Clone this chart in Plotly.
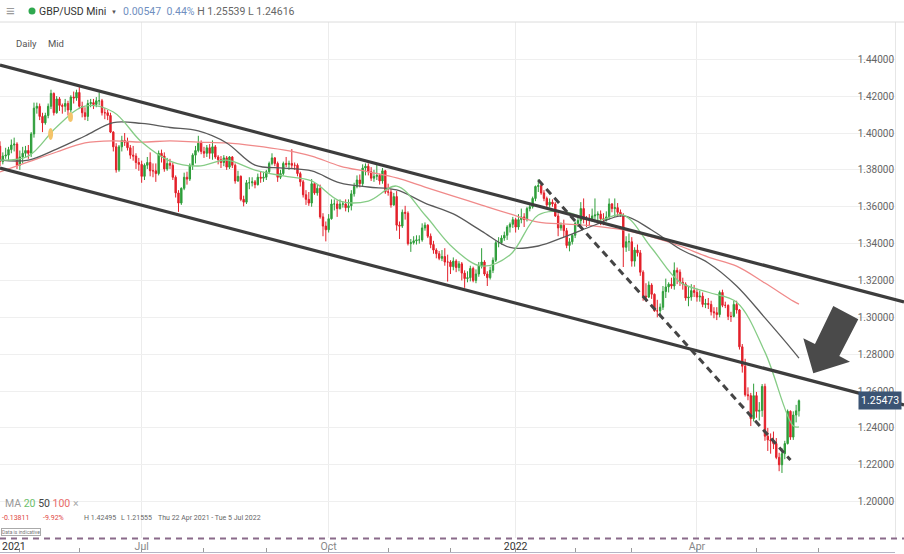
import pandas as pd
import plotly.graph_objects as go

# ---------------- data (GBP/USD daily) ----------------
FIRST_OPEN = 1.39284

close_2021_04 = [1.3845, 1.3875, 1.3880, 1.3910, 1.3935, 1.3940, 1.3825]
high_2021_04 = [1.3955, 1.3895, 1.3920, 1.3925, 1.3965, 1.3975, 1.3950]
low_2021_04 = [1.3820, 1.3830, 1.3860, 1.3850, 1.3890, 1.3900, 1.3805]

close_2021_05 = [1.3870, 1.3890, 1.3905, 1.3890, 1.3995, 1.4135, 1.4145, 1.4090, 1.4055, 1.4095, 1.4145,
                 1.4215, 1.4110, 1.4185, 1.4150, 1.4145, 1.4160, 1.4125, 1.4195, 1.4190, 1.4220]
high_2021_05 = [1.3905, 1.3925, 1.3930, 1.3935, 1.4005, 1.4165, 1.4165, 1.4160, 1.4110, 1.4110, 1.4160,
                1.4235, 1.4220, 1.4200, 1.4195, 1.4160, 1.4185, 1.4175, 1.4205, 1.4225, 1.4235]
low_2021_05 = [1.3800, 1.3835, 1.3870, 1.3860, 1.3870, 1.3975, 1.4105, 1.4070, 1.4005, 1.4045, 1.4080,
               1.4130, 1.4095, 1.4105, 1.4120, 1.4105, 1.4115, 1.4095, 1.4110, 1.4160, 1.4175]

close_2021_06 = [1.4145, 1.4110, 1.4090, 1.4160, 1.4165, 1.4155, 1.4175, 1.4175, 1.4110, 1.4110, 1.4095,
                 1.4005, 1.3925, 1.3800, 1.3925, 1.3960, 1.3950, 1.3920, 1.3880, 1.3875, 1.3840, 1.3830]
high_2021_06 = [1.42495, 1.4170, 1.4140, 1.4180, 1.4185, 1.4185, 1.4195, 1.4220, 1.4185, 1.4135, 1.4125,
                1.4110, 1.4010, 1.3945, 1.3935, 1.3985, 1.4000, 1.3975, 1.3935, 1.3930, 1.3890, 1.3865]
low_2021_06 = [1.4130, 1.4085, 1.4070, 1.4065, 1.4140, 1.4130, 1.4140, 1.4150, 1.4095, 1.4075, 1.4070,
               1.4000, 1.3900, 1.3785, 1.3790, 1.3900, 1.3930, 1.3905, 1.3860, 1.3850, 1.3805, 1.3795]

close_2021_07 = [1.3765, 1.3825, 1.3840, 1.3795, 1.3795, 1.3780, 1.3890, 1.3875, 1.3805, 1.3835, 1.3825,
                 1.3760, 1.3675, 1.3620, 1.3700, 1.3760, 1.3750, 1.3825, 1.3880, 1.3905, 1.3945, 1.3900]
high_2021_07 = [1.3850, 1.3835, 1.3870, 1.3895, 1.3835, 1.3835, 1.3905, 1.3910, 1.3895, 1.3865, 1.3860,
                1.3840, 1.3770, 1.3690, 1.3705, 1.3785, 1.3790, 1.3835, 1.3890, 1.3930, 1.3985, 1.3960]
low_2021_07 = [1.3730, 1.3745, 1.3805, 1.3765, 1.3760, 1.3735, 1.3770, 1.3840, 1.3790, 1.3795, 1.3805,
               1.3745, 1.3650, 1.3572, 1.3610, 1.3690, 1.3720, 1.3740, 1.3800, 1.3835, 1.3895, 1.3885]

close_2021_08 = [1.3890, 1.3920, 1.3890, 1.3925, 1.3870, 1.3855, 1.3840, 1.3865, 1.3815, 1.3870, 1.3825,
                 1.3740, 1.3765, 1.3640, 1.3625, 1.3730, 1.3730, 1.3735, 1.3720, 1.3760, 1.3755, 1.3760]
high_2021_08 = [1.3925, 1.3935, 1.3940, 1.3960, 1.3935, 1.3880, 1.3875, 1.3880, 1.3875, 1.3875, 1.3875,
                1.3835, 1.3795, 1.3770, 1.3660, 1.3745, 1.3760, 1.3760, 1.3745, 1.3780, 1.3790, 1.3790]
low_2021_08 = [1.3865, 1.3870, 1.3860, 1.3855, 1.3860, 1.3830, 1.3810, 1.3820, 1.3800, 1.3805, 1.3810,
               1.3725, 1.3735, 1.3630, 1.3602, 1.3615, 1.3695, 1.3710, 1.3700, 1.3715, 1.3730, 1.3735]

close_2021_09 = [1.3790, 1.3835, 1.3865, 1.3835, 1.3760, 1.3780, 1.3835, 1.3830, 1.3835, 1.3825, 1.3825,
                 1.3780, 1.3735, 1.3665, 1.3640, 1.3620, 1.3725, 1.3675, 1.3700, 1.3545, 1.3495, 1.3475]
high_2021_09 = [1.3800, 1.3845, 1.3890, 1.3870, 1.3845, 1.3800, 1.3845, 1.3870, 1.3850, 1.3913, 1.3840,
                1.3835, 1.3790, 1.3745, 1.3690, 1.3680, 1.3750, 1.3730, 1.3720, 1.3720, 1.3565, 1.3520]
low_2021_09 = [1.3745, 1.3780, 1.3825, 1.3820, 1.3735, 1.3750, 1.3770, 1.3815, 1.3800, 1.3805, 1.3800,
               1.3765, 1.3710, 1.3650, 1.3610, 1.3605, 1.3600, 1.3665, 1.3660, 1.3535, 1.3440, 1.3412]

close_2021_10 = [1.3535, 1.3615, 1.3615, 1.3590, 1.3615, 1.3615, 1.3595, 1.3605, 1.3670, 1.3710, 1.3745,
                 1.3725, 1.3810, 1.3820, 1.3790, 1.3755, 1.3765, 1.3770, 1.3740, 1.3795, 1.3680]
high_2021_10 = [1.3560, 1.3640, 1.3640, 1.3635, 1.3640, 1.3630, 1.3640, 1.3640, 1.3690, 1.3730, 1.3770,
                1.3775, 1.3830, 1.3835, 1.3835, 1.3815, 1.3800, 1.3830, 1.3780, 1.3810, 1.3800]
low_2021_10 = [1.3460, 1.3530, 1.3580, 1.3545, 1.3585, 1.3595, 1.3575, 1.3570, 1.3580, 1.3655, 1.3700,
               1.3705, 1.3710, 1.3770, 1.3770, 1.3740, 1.3735, 1.3745, 1.3720, 1.3725, 1.3670]

close_2021_11 = [1.3680, 1.3610, 1.3655, 1.3500, 1.3495, 1.3570, 1.3565, 1.3400, 1.3405, 1.3415, 1.3420,
                 1.3420, 1.3485, 1.3500, 1.3440, 1.3395, 1.3365, 1.3345, 1.3320, 1.3330, 1.3300, 1.3300]
high_2021_11 = [1.3725, 1.3695, 1.3675, 1.3685, 1.3520, 1.3585, 1.3605, 1.3575, 1.3425, 1.3440, 1.3445,
                1.3445, 1.3510, 1.3515, 1.3505, 1.3455, 1.3415, 1.3375, 1.3360, 1.3365, 1.3375, 1.3340]
low_2021_11 = [1.3660, 1.3595, 1.3605, 1.3470, 1.3425, 1.3485, 1.3530, 1.3390, 1.3355, 1.3395, 1.3395,
               1.3400, 1.3410, 1.3470, 1.3430, 1.3375, 1.3345, 1.3320, 1.3310, 1.3305, 1.3280, 1.3194]

close_2021_12 = [1.3275, 1.3305, 1.3270, 1.3290, 1.3240, 1.3210, 1.3215, 1.3265, 1.3200, 1.3235, 1.3280,
                 1.3300, 1.3235, 1.3215, 1.3255, 1.3310, 1.3405, 1.3405, 1.3430, 1.3445, 1.3490, 1.3505, 1.3530]
high_2021_12 = [1.3310, 1.3325, 1.3315, 1.3305, 1.3300, 1.3255, 1.3250, 1.3280, 1.3275, 1.3260, 1.3300,
                1.3375, 1.3310, 1.3250, 1.3275, 1.3325, 1.3415, 1.3435, 1.3445, 1.3465, 1.3500, 1.3515, 1.3545]
low_2021_12 = [1.3235, 1.3255, 1.3245, 1.3250, 1.3200, 1.3160, 1.3190, 1.3195, 1.3190, 1.3185, 1.3220,
               1.3265, 1.3225, 1.3170, 1.3205, 1.3240, 1.3300, 1.3380, 1.3395, 1.3415, 1.3420, 1.3460, 1.3485]

close_2022_01 = [1.3490, 1.3530, 1.3545, 1.3530, 1.3590, 1.3600, 1.3645, 1.3710, 1.3715, 1.3675, 1.3645,
                 1.3610, 1.3625, 1.3615, 1.3550, 1.3485, 1.3500, 1.3470, 1.3390, 1.3410, 1.3445]
high_2022_01 = [1.3540, 1.3560, 1.3590, 1.3565, 1.3600, 1.3615, 1.3655, 1.3715, 1.3749, 1.3725, 1.3690,
                1.3655, 1.3645, 1.3640, 1.3625, 1.3565, 1.3515, 1.3530, 1.3485, 1.3430, 1.3450]
low_2022_01 = [1.3460, 1.3475, 1.3510, 1.3490, 1.3520, 1.3575, 1.3590, 1.3630, 1.3680, 1.3665, 1.3630,
               1.3590, 1.3595, 1.3600, 1.3545, 1.3440, 1.3470, 1.3435, 1.3375, 1.3358, 1.3395]

close_2022_02 = [1.3510, 1.3525, 1.3590, 1.3530, 1.3530, 1.3530, 1.3550, 1.3555, 1.3560, 1.3535,
                 1.3530, 1.3545, 1.3615, 1.3590, 1.3595, 1.3570, 1.3555, 1.3380, 1.3410, 1.3410]
high_2022_02 = [1.3520, 1.3545, 1.3625, 1.3645, 1.3550, 1.3560, 1.3590, 1.3645, 1.3575, 1.3580,
                1.3565, 1.3575, 1.3645, 1.3620, 1.3645, 1.3620, 1.3585, 1.3565, 1.3440, 1.3455]
low_2022_02 = [1.3430, 1.3490, 1.3500, 1.3510, 1.3490, 1.3500, 1.3520, 1.3515, 1.3510, 1.3500,
               1.3500, 1.3520, 1.3530, 1.3570, 1.3545, 1.3545, 1.3545, 1.3273, 1.3355, 1.3360]

close_2022_03 = [1.3305, 1.3365, 1.3350, 1.3245, 1.3115, 1.3110, 1.3175, 1.3125, 1.3035, 1.3035, 1.3055,
                 1.3140, 1.3165, 1.3180, 1.3170, 1.3255, 1.3245, 1.3190, 1.3180, 1.3105, 1.3110, 1.3145, 1.3135]
high_2022_03 = [1.3435, 1.3380, 1.3395, 1.3365, 1.3255, 1.3185, 1.3195, 1.3185, 1.3130, 1.3095, 1.3075,
                1.3170, 1.3210, 1.3190, 1.3215, 1.3298, 1.3270, 1.3260, 1.3215, 1.3190, 1.3165, 1.3180, 1.3175]
low_2022_03 = [1.3275, 1.3275, 1.3330, 1.3225, 1.3090, 1.3085, 1.3105, 1.3100, 1.3030, 1.3000, 1.3000,
               1.3040, 1.3105, 1.3135, 1.3155, 1.3150, 1.3180, 1.3170, 1.3150, 1.3090, 1.3060, 1.3090, 1.3110]

close_2022_04 = [1.3110, 1.3115, 1.3070, 1.3075, 1.3070, 1.3030, 1.3025, 1.3015, 1.3135, 1.3065, 1.3065,
                 1.3005, 1.3005, 1.3070, 1.3040, 1.2840, 1.2735, 1.2580, 1.2575, 1.2450, 1.2575]
high_2022_04 = [1.3155, 1.3145, 1.3135, 1.3100, 1.3105, 1.3090, 1.3055, 1.3055, 1.3145, 1.3150, 1.3085,
                1.3070, 1.3030, 1.3090, 1.3090, 1.3045, 1.2855, 1.2775, 1.2620, 1.2590, 1.2640]
low_2022_04 = [1.3085, 1.3085, 1.3055, 1.3050, 1.3045, 1.3010, 1.2995, 1.2985, 1.3000, 1.3055, 1.3050,
               1.2985, 1.2975, 1.3000, 1.3020, 1.2825, 1.2700, 1.2570, 1.2550, 1.2410, 1.2435]

close_2022_05 = [1.2490, 1.2495, 1.2625, 1.2355, 1.2335, 1.2330, 1.2315, 1.2240, 1.2200, 1.2260,
                 1.2315, 1.2490, 1.2350, 1.2470, 1.24926, 1.25473]
high_2022_05 = [1.2595, 1.2540, 1.2638, 1.2640, 1.2400, 1.2370, 1.2380, 1.2345, 1.2265, 1.2290,
                1.2330, 1.2500, 1.2495, 1.2490, 1.2525, 1.25539]
low_2022_05 = [1.2455, 1.2440, 1.2460, 1.2330, 1.2275, 1.2260, 1.2285, 1.2230, 1.2165, 1.21555,
               1.2230, 1.2310, 1.2335, 1.2335, 1.2430, 1.24616]

# moving averages (20 / 50 / 100) every two weeks
MA_DATES = ["2021-04-22", "2021-05-06", "2021-05-20", "2021-06-03", "2021-06-17", "2021-07-01",
            "2021-07-15", "2021-07-29", "2021-08-12", "2021-08-26", "2021-09-09", "2021-09-23",
            "2021-10-07", "2021-10-21", "2021-11-04", "2021-11-18", "2021-12-02", "2021-12-16",
            "2021-12-30", "2022-01-13", "2022-01-27", "2022-02-10", "2022-02-24", "2022-03-10",
            "2022-03-24", "2022-04-07", "2022-04-21", "2022-05-05", "2022-05-19", "2022-05-23"]
MA20 = [1.3853, 1.3875, 1.4033, 1.4146, 1.4114, 1.3951, 1.3848, 1.3821, 1.3853, 1.3799, 1.3767, 1.3740,
        1.3631, 1.3631, 1.3712, 1.3555, 1.3376, 1.3278, 1.3338, 1.3555, 1.3571, 1.3522, 1.3555, 1.3376,
        1.3191, 1.3136, 1.3082, 1.2811, 1.2410, 1.2405]
MA50 = [1.3853, 1.3853, 1.3913, 1.3984, 1.4057, 1.4052, 1.4030, 1.4011, 1.3946, 1.3826, 1.3810, 1.3794,
        1.3729, 1.3707, 1.3691, 1.3620, 1.3561, 1.3468, 1.3379, 1.3387, 1.3441, 1.3501, 1.3550, 1.3474,
        1.3371, 1.3295, 1.3170, 1.2997, 1.2817, 1.2779]
MA100 = [1.3789, 1.3843, 1.3897, 1.3946, 1.3957, 1.3951, 1.3957, 1.3951, 1.3946, 1.3930, 1.3908, 1.3875,
         1.3821, 1.3789, 1.3756, 1.3707, 1.3658, 1.3609, 1.3561, 1.3517, 1.3506, 1.3495, 1.3474, 1.3436,
         1.3387, 1.3327, 1.3278, 1.3186, 1.3088, 1.3072]

Y_TICKS = [1.20, 1.22, 1.24, 1.26, 1.28, 1.30, 1.32, 1.34, 1.36, 1.38, 1.40, 1.42, 1.44]
X_TICK_DATES = ["2021-07-01", "2021-10-01", "2022-01-03", "2022-04-01", "2022-07-01"]
X_TICK_TEXT = ["Jul", "Oct", "<span style='color:#333'>2022</span>", "Apr", "Jul"]
LAST_PRICE = 1.25473

# ---------------- assemble ----------------
close = (close_2021_04 + close_2021_05 + close_2021_06 + close_2021_07 + close_2021_08 + close_2021_09 +
         close_2021_10 + close_2021_11 + close_2021_12 + close_2022_01 + close_2022_02 + close_2022_03 +
         close_2022_04 + close_2022_05)
high = (high_2021_04 + high_2021_05 + high_2021_06 + high_2021_07 + high_2021_08 + high_2021_09 +
        high_2021_10 + high_2021_11 + high_2021_12 + high_2022_01 + high_2022_02 + high_2022_03 +
        high_2022_04 + high_2022_05)
low = (low_2021_04 + low_2021_05 + low_2021_06 + low_2021_07 + low_2021_08 + low_2021_09 +
       low_2021_10 + low_2021_11 + low_2021_12 + low_2022_01 + low_2022_02 + low_2022_03 +
       low_2022_04 + low_2022_05)
# FX daily candles open at the prior session's close
opens = [FIRST_OPEN] + close[:-1]
dates = pd.bdate_range("2021-04-22", periods=len(close))

W, H = 904, 554
PLOT_W = 895
TOP = 22
PLOT_BOTTOM = 538


def px(x):
    return x / PLOT_W


def py(y):
    return (H - y) / (H - TOP)


GREEN = "#2e9e3a"
RED = "#e3202a"
FONT = "Roboto, Open Sans, sans-serif"

fig = go.Figure()

fig.add_trace(go.Scatter(x=MA_DATES, y=MA100, mode="lines", line=dict(color="#f08a8a", width=1.3, shape="spline"),
                         hoverinfo="skip", showlegend=False))
fig.add_trace(go.Scatter(x=MA_DATES, y=MA50, mode="lines", line=dict(color="#5a5a5a", width=1.3, shape="spline"),
                         hoverinfo="skip", showlegend=False))
fig.add_trace(go.Scatter(x=MA_DATES, y=MA20, mode="lines", line=dict(color="#86cc86", width=1.3, shape="spline"),
                         hoverinfo="skip", showlegend=False))

fig.add_trace(go.Candlestick(
    x=dates, open=opens, high=high, low=low, close=close,
    increasing=dict(line=dict(color=GREEN, width=1), fillcolor=GREEN),
    decreasing=dict(line=dict(color=RED, width=1), fillcolor=RED),
    whiskerwidth=0, showlegend=False, hoverinfo="skip",
))

# helper trace so the bottom navigator axis exists
fig.add_trace(go.Scatter(x=[dates[0]], y=[None], xaxis="x2", yaxis="y", mode="lines",
                         showlegend=False, hoverinfo="skip"))

breaks = [dict(bounds=["sat", "mon"])]

fig.update_layout(
    width=W, height=H,
    margin=dict(l=0, r=W - PLOT_W, t=TOP, b=0),
    paper_bgcolor="white", plot_bgcolor="white",
    font=dict(family=FONT, size=10, color="#555"),
    showlegend=False,
    xaxis=dict(
        type="date", rangebreaks=breaks,
        range=["2021-04-22", "2022-07-07 21:36"],
        rangeslider=dict(visible=False),
        tickvals=X_TICK_DATES, ticktext=X_TICK_TEXT,
        tickfont=dict(size=10.5, color="#888", family=FONT),
        showgrid=True, gridcolor="#ececec", gridwidth=1,
        showline=False, zeroline=False, ticks="", anchor="y",
    ),
    xaxis2=dict(
        type="date", rangebreaks=breaks, matches="x", overlaying="x",
        anchor="free", position=0.003, side="bottom",
        showgrid=False, showticklabels=False, ticks="inside", ticklen=4,
        tickcolor="#9a9a9a", dtick="M1", tick0="2021-05-01",
        showline=True, linecolor="#b5b5c5", linewidth=1, zeroline=False,
    ),
    yaxis=dict(
        domain=[(H - PLOT_BOTTOM) / (H - TOP), 1],
        range=[1.18026, 1.46024], side="right", ticklabelposition="inside",
        tickvals=Y_TICKS, ticktext=[f"{v:.5f}" for v in Y_TICKS],
        tickfont=dict(size=10, color="#666", family=FONT),
        showgrid=True, gridcolor="#efefef", gridwidth=1,
        showline=True, linecolor="#e6e6e6", zeroline=False, ticks="",
    ),
)

shapes = []
# header separator
shapes.append(dict(type="line", xref="paper", yref="paper", x0=0, x1=px(W), y0=py(22), y1=py(22),
                   line=dict(color="#dcdcdc", width=1)))
# dashed purple marker at the bottom
shapes.append(dict(type="line", xref="paper", yref="paper", x0=0, x1=px(W), y0=py(538.5), y1=py(538.5),
                   line=dict(color="#8a6a8a", width=2, dash="6px,5px")))
# descending channel
shapes.append(dict(type="line", xref="paper", yref="paper", x0=px(0), y0=py(65), x1=px(904), y1=py(302),
                   line=dict(color="#3d3d3d", width=3.2)))
shapes.append(dict(type="line", xref="paper", yref="paper", x0=px(0), y0=py(168), x1=px(904), y1=py(405),
                   line=dict(color="#3d3d3d", width=3.2)))
# dashed trend line from the January high
shapes.append(dict(type="line", xref="x", yref="y", x0="2022-01-13", y0=1.3745, x1="2022-05-18", y1=1.2226,
                   line=dict(color="#454545", width=3, dash="7px,5px")))
# event markers
shapes.append(dict(type="circle", xref="x", yref="y", x0="2021-05-17", x1="2021-05-18 18:00",
                   y0=1.3962, y1=1.4027, fillcolor="#f4c46a", line=dict(width=0), layer="above"))
shapes.append(dict(type="circle", xref="x", yref="y", x0="2021-05-26", x1="2021-05-27 18:00",
                   y0=1.4060, y1=1.4113, fillcolor="#f4c46a", line=dict(width=0), layer="above"))
# big arrow
arrow_pts = [(833.3, 306), (858.3, 319.3), (839.3, 356), (850, 361.7), (813.3, 373.3), (803.3, 338.3), (815, 344)]
path = "M " + " L ".join(f"{px(a):.5f},{py(b):.5f}" for a, b in arrow_pts) + " Z"
shapes.append(dict(type="path", xref="paper", yref="paper", path=path, fillcolor="#4a4a4a",
                   line=dict(width=0), layer="above"))
# green status dot
shapes.append(dict(type="circle", xref="paper", yref="paper", x0=px(28.5), x1=px(35.5), y0=py(14.5), y1=py(7.5),
                   fillcolor="#2fa84f", line=dict(width=0)))
fig.update_layout(shapes=shapes)

ann = []


def text(x, y, s, size=10, color="#555", anchor="left", **kw):
    ann.append(dict(x=px(x), y=py(y), xref="paper", yref="paper", text=s, showarrow=False,
                    xanchor=anchor, yanchor="middle", font=dict(size=size, color=color, family=FONT), **kw))


text(4, 11, "≡", size=15, color="#9a9a9a")
text(37, 11, "GBP/USD Mini", size=10.5, color="#333")
text(109, 12, "▼", size=6, color="#555")
text(121, 11, "<span style='color:#6f8fbf'>0.00547&nbsp;&nbsp;0.44%</span> H 1.25539 L 1.24616", size=10.5,
     color="#666")
text(14, 44, "Daily", size=9.5, color="#555")
text(46, 44, "Mid", size=9.5, color="#555")
text(3, 503, "MA <span style='color:#6cc06c'>20</span> <span style='color:#444'>50</span> "
             "<span style='color:#e86a6a'>100</span> <span style='color:#aaa'>×</span>", size=10.5, color="#999")
text(0, 518, "-0.13811", size=7, color="#e0463f")
text(41, 518, "-9.92%", size=7, color="#e0463f")
text(82, 518, "H 1.42495", size=7, color="#666")
text(119, 518, "L 1.21555", size=7, color="#666")
text(156, 518, "Thu 22 Apr 2021 - Tue 5 Jul 2022", size=7, color="#666")
ann.append(dict(x=px(1), y=py(532), xref="paper", yref="paper", text="Data is indicative", showarrow=False,
                xanchor="left", yanchor="middle", font=dict(size=5, color="#777", family=FONT),
                bordercolor="#aaa", borderwidth=1, borderpad=0, bgcolor="white"))
text(0, 546, "2021", size=10.5, color="#333")
# last price tag
ann.append(dict(x=px(902), y=LAST_PRICE, xref="paper", yref="y", text="1.25473", showarrow=False,
                xanchor="right", yanchor="middle", font=dict(size=10.5, color="white", family=FONT),
                bgcolor="#3b5474", borderpad=2))
fig.update_layout(annotations=ann)

fig.write_html("out.html")
